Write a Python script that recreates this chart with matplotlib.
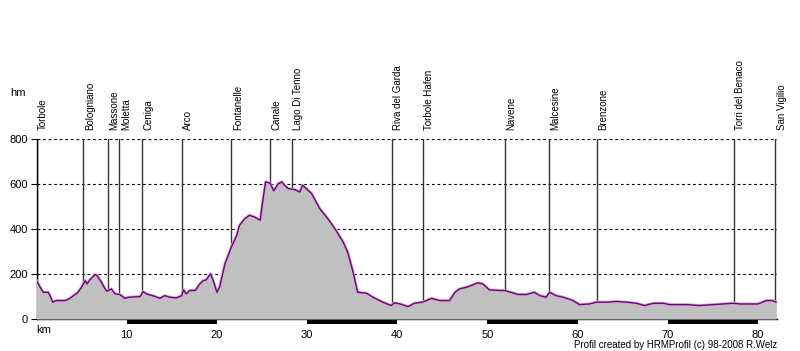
import matplotlib
matplotlib.use("Agg")
import matplotlib.pyplot as plt

plt.rcParams['font.family'] = ['Liberation Sans', 'DejaVu Sans']

# Elevation profile (km, m)
km = [0.0, 0.4, 0.75, 1.3, 1.5, 1.8, 2.2, 3.2, 3.7, 4.1, 4.6, 5.0, 5.4, 5.6, 5.9, 6.5, 6.7,
      7.2, 7.6, 7.8, 8.3, 8.7, 9.25, 9.8, 10.2, 11.5, 11.8, 12.2, 13.1, 13.7, 14.2, 14.8,
      15.5, 16.1, 16.3, 16.6, 17.0, 17.6, 18.1, 18.5, 18.8, 19.3, 19.6, 20.0, 20.3, 20.9,
      21.6, 22.2, 22.5, 23.1, 23.6, 24.2, 24.8, 25.1, 25.4, 25.9, 26.3, 26.8, 27.2, 27.5,
      27.9, 28.6, 29.2, 29.5, 30.1, 30.5, 31.4, 32.3, 33.2, 34.0, 34.5, 35.1, 35.6, 36.6,
      37.3, 38.4, 39.3, 39.7, 40.3, 41.2, 41.9, 42.8, 43.8, 44.7, 45.8, 46.4, 46.9, 47.7,
      48.2, 48.9, 49.5, 50.2, 51.3, 51.9, 52.6, 53.4, 54.3, 55.2, 55.8, 56.5, 56.9, 57.6,
      58.4, 59.5, 60.2, 61.3, 62.1, 63.2, 64.3, 65.4, 66.5, 67.4, 68.4, 69.5, 70.2, 72.1,
      73.5, 75.0, 77.2, 78.0, 80.0, 80.9, 81.6, 82.0]
elev = [171, 142, 119, 119, 104, 75, 82, 82, 92, 104, 119, 142, 171, 156, 174, 198, 194,
        164, 134, 124, 134, 112, 109, 92, 97, 100, 122, 112, 101, 92, 104, 97,
        94, 104, 130, 112, 127, 127, 156, 171, 174, 201, 171, 119, 142, 246,
        320, 373, 417, 447, 462, 454, 440, 529, 611, 606, 571, 603, 611, 596,
        581, 577, 566, 596, 574, 559, 492, 447, 395, 343, 298, 209, 119, 115,
        97, 75, 60, 72, 67, 55, 70, 75, 92, 82, 82, 119, 134, 142,
        149, 161, 156, 130, 127, 127, 119, 109, 109, 119, 104, 97, 119, 104,
        97, 82, 64, 67, 75, 75, 78, 75, 70, 60, 70, 70, 64, 64,
        60, 64, 70, 67, 67, 82, 82, 75]

places = ["Torbole", "Bologniano", "Massone", "Moletta", "Ceniga", "Arco", "Fontanelle",
          "Canale", "Lago Di Tenno", "Riva del Garda", "Torbole Hafen", "Navene",
          "Malcesine", "Brenzone", "Torri del Benaco", "San Vigilio"]
place_km = [0.0, 5.2, 7.9, 9.2, 11.7, 16.1, 21.6, 25.9, 28.3, 39.4, 42.8, 51.9,
            56.8, 62.1, 77.3, 81.9]

y_ticks = [0, 200, 400, 600, 800]
x_ticks = [10, 20, 30, 40, 50, 60, 70, 80]
x_max = 82.1

W, H = 800, 351
fig = plt.figure(figsize=(W / 100, H / 100), dpi=100)
fig.patch.set_facecolor('white')
ax = fig.add_axes([36.5 / W, (H - 319) / H, (777 - 36.5) / W, (319 - 139.5) / H])
ax.set_xlim(0, x_max)
ax.set_ylim(0, 800)

# grid
for y in y_ticks[1:]:
    ax.axhline(y, color='black', lw=0.8, ls=(0, (2.5, 2.5)), zorder=1)

# place lines
for p, k in zip(places, place_km):
    ax.plot([k, k], [0, 800], color='#333333', lw=1.0, zorder=2)
    ax.annotate(p, xy=(k, 800), xytext=(1.5, 9), textcoords='offset pixels',
                rotation=90, ha='left', va='bottom', fontsize=7, color='black',
                annotation_clip=False)

ax.fill_between(km, elev, 0, color='#c0c0c0', zorder=3, lw=0)
ax.plot(km, elev, color='#e0a0e0', lw=2.2, zorder=4, solid_joinstyle='round')
ax.plot(km, elev, color='#5e1063', lw=1.0, zorder=5, solid_joinstyle='round')

for s in ['top', 'right']:
    ax.spines[s].set_visible(False)
ax.spines['left'].set_color('black')
ax.spines['bottom'].set_color('black')
ax.spines['left'].set_linewidth(1.0)
ax.spines['bottom'].set_linewidth(1.0)

ax.set_yticks(y_ticks)
ax.set_yticklabels([str(v) for v in y_ticks], fontsize=8)
ax.tick_params(axis='y', length=4, width=0.8, pad=2)
ax.set_xticks(x_ticks)
ax.set_xticklabels([str(v) for v in x_ticks], fontsize=8)
ax.tick_params(axis='x', length=0, pad=8)

# alternating scale bar below axis
bax = fig.add_axes([36.5 / W, (H - 323.5) / H, (777 - 36.5) / W, 4 / H], sharex=ax)
bax.set_ylim(0, 1)
edges = [0] + x_ticks + [x_max]
for i in range(len(edges) - 1):
    if i % 2 == 1:
        bax.axvspan(edges[i], edges[i + 1], color='black', lw=0)
bax.axis('off')

fig.text(36.5 / W, 1 - 330 / H, 'km', fontsize=8, ha='left', va='center')
fig.text(10 / W, 1 - 93 / H, 'hm', fontsize=8, ha='left', va='center')
fig.text(777 / W, 1 - 345 / H, 'Profil created by HRMProfil (c) 98-2008 R.Welz',
         fontsize=7, ha='right', va='center')

fig.savefig('out.png', dpi=100)
